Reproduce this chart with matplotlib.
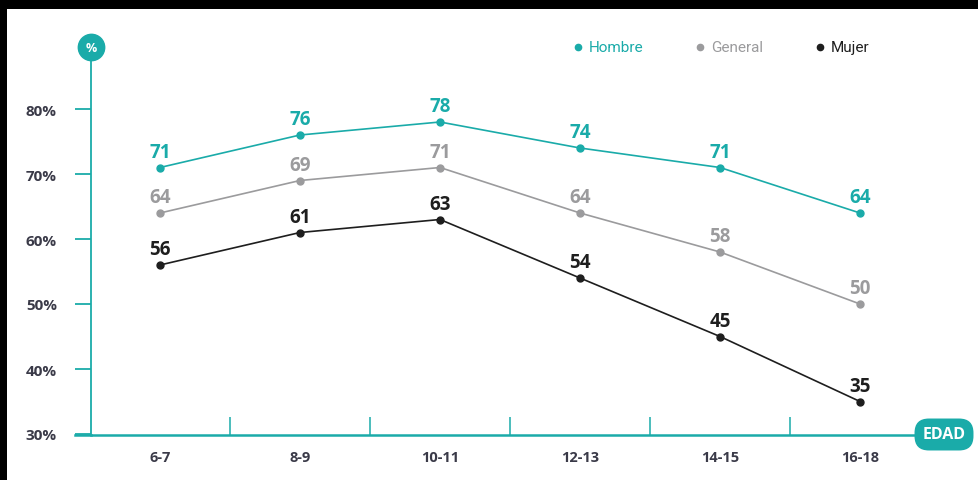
import matplotlib
matplotlib.use("Agg")
import matplotlib.pyplot as plt
from matplotlib.patches import Rectangle
from matplotlib.lines import Line2D

categories = ["6-7", "8-9", "10-11", "12-13", "14-15", "16-18"]
hombre = [71, 76, 78, 74, 71, 64]
general = [64, 69, 71, 64, 58, 50]
mujer = [56, 61, 63, 54, 45, 35]
yticks = [30, 40, 50, 60, 70, 80]
ytick_labels = ["30%", "40%", "50%", "60%", "70%", "80%"]
series_names = ["Hombre", "General", "Mujer"]

TEAL = "#1AABA9"
GRAY = "#9B9B9D"
DARK = "#1E1E1E"
LABEL = "#3A3A48"

W, H = 979, 481
fig = plt.figure(figsize=(W / 100, H / 100), dpi=100)
fig.patch.set_facecolor("white")

px_left, px_right = 91, 915
px_bottom, px_top = 436, 48
ax = fig.add_axes([px_left / W, 1 - px_bottom / H, (px_right - px_left) / W, (px_bottom - px_top) / H])
x0_px, step_px = 160, 140
ax.set_xlim((px_left - x0_px) / step_px, (px_right - x0_px) / step_px)
ppu = 6.5
ax.set_ylim(30 - (px_bottom - 435) / ppu, 30 + (435 - px_top) / ppu)

for s in ["top", "right"]:
    ax.spines[s].set_visible(False)
ax.spines["left"].set_color(TEAL)
ax.spines["left"].set_linewidth(1.3)
ax.spines["bottom"].set_color(TEAL)
ax.spines["bottom"].set_linewidth(1.8)

xs = list(range(len(categories)))
series = [(hombre, TEAL), (general, GRAY), (mujer, DARK)]
for vals, col in series:
    ax.plot(xs, vals, color=col, lw=1.2, marker="o", ms=5, zorder=3, clip_on=False)
    for x, v in zip(xs, vals):
        ax.annotate(str(v), (x, v), xytext=(0, 11.5), textcoords="offset points",
                    ha="center", va="center", fontsize=13.5, fontweight="bold",
                    color=col, family="Open Sans")

ax.set_yticks(yticks)
ax.set_yticklabels(ytick_labels)
ax.tick_params(axis="y", length=11.5, width=1.3, color=TEAL, pad=13,
               labelsize=11, labelcolor=LABEL)
for t in ax.get_yticklabels():
    t.set_fontweight("bold")
    t.set_family("Open Sans")

ax.set_xticks(xs)
ax.set_xticklabels(categories)
ax.tick_params(axis="x", length=0, pad=11, labelsize=10.5, labelcolor=LABEL)
for t in ax.get_xticklabels():
    t.set_fontweight("bold")
    t.set_family("Open Sans")
ax.set_xticks([i + 0.5 for i in range(len(categories) - 1)], minor=True)
ax.tick_params(axis="x", which="minor", direction="in", length=13, width=1.1, color=TEAL)

fig.add_artist(Line2D([75 / W, px_left / W], [1 - 435.5 / H, 1 - 435.5 / H],
                      color=TEAL, lw=1.8, transform=fig.transFigure))

# % circle
fig.add_artist(Line2D([px_left / W], [1 - 48 / H], marker="o", ms=19, color=TEAL,
                      lw=0, transform=fig.transFigure))
fig.text(px_left / W, 1 - 48 / H, "%", color="white", fontsize=9, fontweight="bold",
         ha="center", va="center", family="Open Sans")

# EDAD badge
fig.text(944 / W, 1 - 435.5 / H, "EDAD", color="white", fontsize=11.5, fontweight="bold",
         ha="center", va="center", family="Open Sans",
         bbox=dict(boxstyle="round,pad=0.5,rounding_size=0.9", fc=TEAL, ec="none"))

# legend
leg_x = [578, 700, 820]
leg_cols = [TEAL, GRAY, DARK]
for lx, name, col in zip(leg_x, series_names, leg_cols):
    fig.add_artist(Line2D([lx / W], [1 - 48 / H], marker="o", ms=4.5, color=col,
                          transform=fig.transFigure, lw=0))
    fig.text((lx + 11) / W, 1 - 48 / H, name, color=col, fontsize=11,
             ha="left", va="center", family="Roboto")

fig.add_artist(Rectangle((0, 1 - 10 / H), 1, 10 / H, transform=fig.transFigure,
                         facecolor="black", edgecolor="none", zorder=10))
fig.add_artist(Rectangle((0, 0), 7 / W, 1, transform=fig.transFigure,
                         facecolor="black", edgecolor="none", zorder=10))

fig.savefig("out.png", dpi=100)
